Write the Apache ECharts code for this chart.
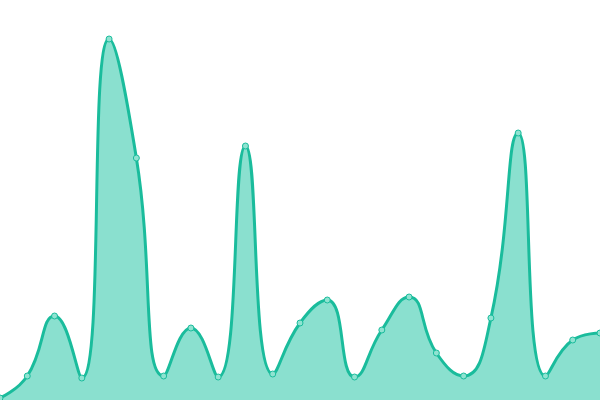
<!DOCTYPE html>
<html><head><meta charset="utf-8">
<script src="https://cdn.jsdelivr.net/npm/echarts@6/dist/echarts.min.js"></script>
<style>html,body{margin:0;padding:0;background:#fff}#c{width:600px;height:400px}</style>
</head><body><div id="c"></div>
<script>
const categories = ['1','2','3','4','5','6','7','8','9','10','11','12','13','14','15','16','17','18','19','20','21','22','23'];
const values = [2, 24, 84, 22, 361, 242, 24, 72, 23, 254, 26, 77, 100, 23, 70, 103, 47, 24, 82, 267, 24, 60, 67];
const chart = echarts.init(document.getElementById('c'));
chart.setOption({
  animation: false,
  grid: {left: 0, right: 0, top: 0, bottom: 0},
  xAxis: {type: 'category', data: categories, boundaryGap: false, show: false},
  yAxis: {type: 'value', min: 0, max: 400, show: false},
  series: [{
    type: 'line',
    data: values,
    smooth: true,
    symbol: 'circle',
    symbolSize: 6,
    showAllSymbol: true,
    lineStyle: {color: '#1abc9c', width: 3},
    itemStyle: {color: '#8fe3d1', borderColor: '#1abc9c', borderWidth: 1},
    areaStyle: {color: '#8ae0cf', opacity: 1}
  }]
});
</script></body></html>
